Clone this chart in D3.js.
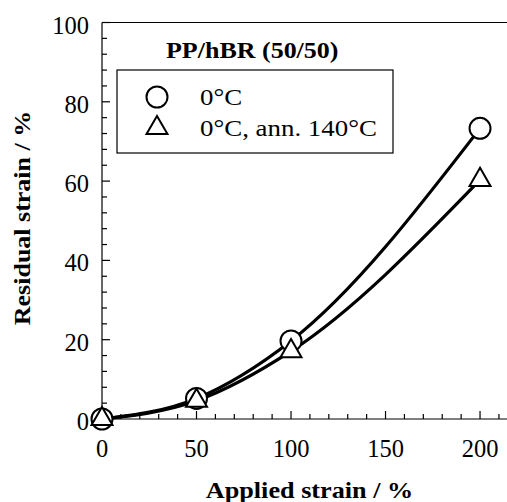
<!DOCTYPE html>
<html><head><meta charset="utf-8">
<script src="https://cdn.jsdelivr.net/npm/d3@7"></script>
<style>body{margin:0;background:#fff}svg{display:block}</style>
</head><body><svg id="c" width="507" height="502" font-family="'Liberation Serif', 'Times New Roman', serif"></svg>
<script>
const appliedStrain = [0, 50, 100, 200];
const residual0C = [0, 5.2, 19.7, 73.3];
const residualAnn = [0, 4.6, 17.1, 60.3];
const xTicks = [0, 50, 100, 150, 200];
const yTicks = [0, 20, 40, 60, 80, 100];
const legendLabels = ["0°C", "0°C, ann. 140°C"];
const titleText = "PP/hBR (50/50)";

const svg = d3.select("#c");
const x = d3.scaleLinear().domain([0, 214]).range([102, 506.5]);
const y = d3.scaleLinear().domain([0, 100]).range([419, 22.5]);

function stretchedText(px, py, rot, sx, size, weight, anchor, str) {
  svg.append("text")
    .attr("transform", `translate(${px},${py}) rotate(${rot}) scale(${sx},1)`)
    .attr("font-size", size).attr("font-weight", weight).attr("text-anchor", anchor)
    .attr("fill", "#000").text(str);
}

// frame top
svg.append("line").attr("x1", x(0)).attr("x2", 507).attr("y1", y(100)).attr("y2", y(100)).attr("stroke", "#000").attr("stroke-width", 1.2);

// x axis
const xAxisG = svg.append("g").attr("transform", `translate(0,${y(0)})`);
xAxisG.append("line").attr("x1", x(0)).attr("x2", 507).attr("stroke", "#000").attr("stroke-width", 1.2);
xAxisG.selectAll(".mn").data(d3.range(0, 215, 10)).join("line")
  .attr("x1", d => x(d)).attr("x2", d => x(d)).attr("y1", 0).attr("y2", d => d % 50 === 0 ? -8 : -5)
  .attr("stroke", "#000").attr("stroke-width", 1.2);
xAxisG.selectAll("text").data(xTicks).join("text")
  .attr("x", d => x(d)).attr("y", 38).attr("text-anchor", "middle").attr("font-size", 24.5).text(d => d);

// y axis
const yAxisG = svg.append("g").attr("transform", `translate(${x(0)},0)`);
yAxisG.append("line").attr("y1", y(0)).attr("y2", y(100)).attr("stroke", "#000").attr("stroke-width", 1.2);
yAxisG.selectAll(".mn").data(d3.range(0, 101, 4)).join("line")
  .attr("y1", d => y(d)).attr("y2", d => y(d)).attr("x1", 0).attr("x2", d => d % 20 === 0 ? 8 : 5)
  .attr("stroke", "#000").attr("stroke-width", 1.2);
yAxisG.selectAll("text").data(yTicks).join("text")
  .attr("x", -13).attr("y", d => y(d) + 11).attr("text-anchor", "end").attr("font-size", 24.5).text(d => d);

// axis titles
stretchedText(309.5, 498, 0, 1.14, 23, "bold", "middle", "Applied strain / %");
stretchedText(30, 218, -90, 1.13, 23, "bold", "middle", "Residual strain / %");

// curves
const line = d3.line().x(d => x(d[0])).y(d => y(d[1])).curve(d3.curveMonotoneX);
[residual0C, residualAnn].forEach(vals => {
  svg.append("path").attr("d", line(appliedStrain.map((a, i) => [a, vals[i]])))
    .attr("fill", "none").attr("stroke", "#000").attr("stroke-width", 3.2);
});

const tri = d3.symbol().type(d3.symbolTriangle).size(190);
// markers
svg.selectAll(".circ").data(appliedStrain.map((a, i) => [a, residual0C[i]])).join("circle")
  .attr("cx", d => x(d[0])).attr("cy", d => y(d[1])).attr("r", 10.5)
  .attr("fill", "#fff").attr("stroke", "#000").attr("stroke-width", 2);
svg.selectAll(".tri").data(appliedStrain.map((a, i) => [a, residualAnn[i]])).join("path")
  .attr("transform", d => `translate(${x(d[0])},${y(d[1])})`).attr("d", tri)
  .attr("fill", "#fff").attr("stroke", "#000").attr("stroke-width", 2);

// title
stretchedText(166, 58, 0, 1.13, 23, "bold", "start", titleText);

// legend
svg.append("rect").attr("x", 117).attr("y", 70).attr("width", 276).attr("height", 83)
  .attr("fill", "#fff").attr("stroke", "#000").attr("stroke-width", 1.2);
svg.append("circle").attr("cx", 157).attr("cy", 97).attr("r", 10.5).attr("fill", "#fff").attr("stroke", "#000").attr("stroke-width", 2);
svg.append("path").attr("transform", "translate(157,128)").attr("d", tri).attr("fill", "#fff").attr("stroke", "#000").attr("stroke-width", 2);
legendLabels.forEach((t, i) => {
  stretchedText(200, 105 + i * 31, 0, 1.17, 23, "normal", "start", t);
});
</script></body></html>
